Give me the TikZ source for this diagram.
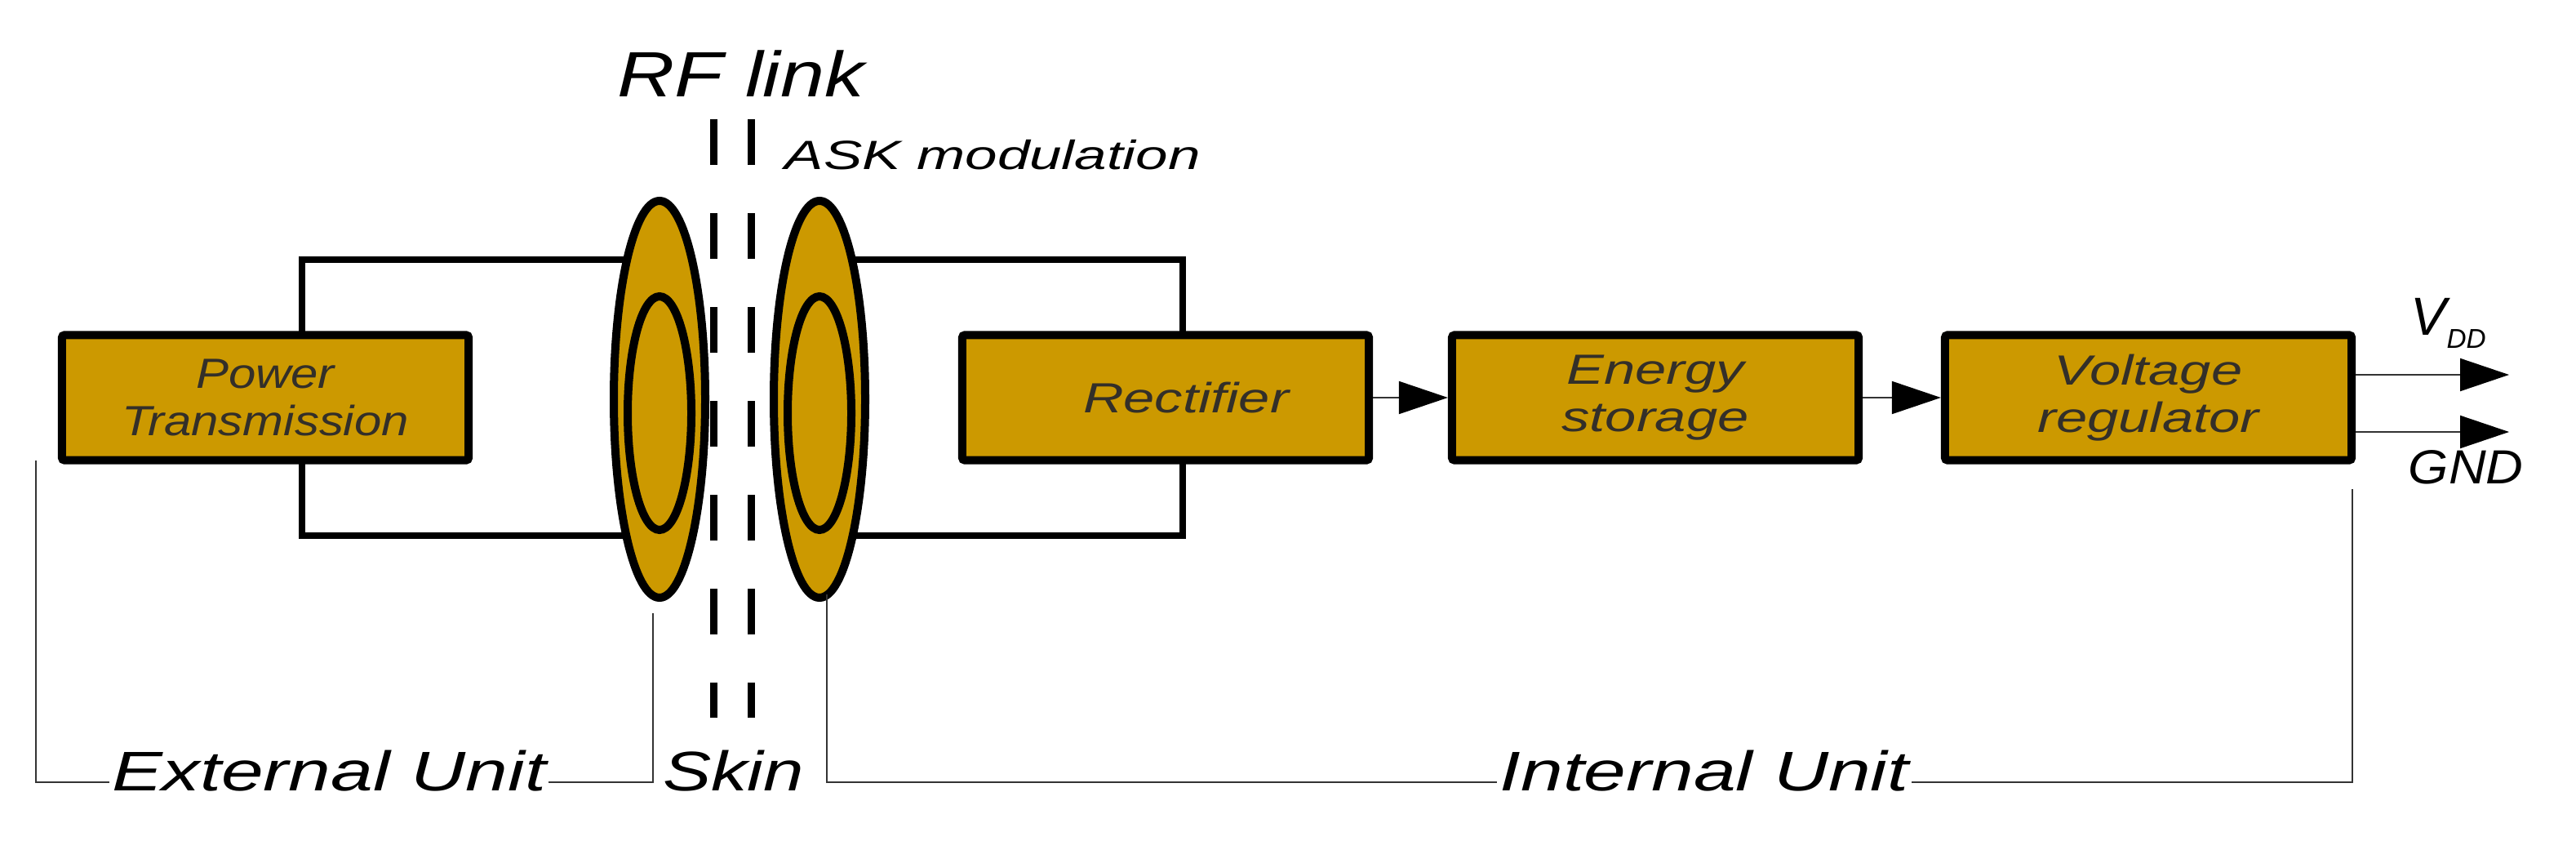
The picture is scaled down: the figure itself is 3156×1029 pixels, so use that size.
\documentclass[tikz,border=0pt]{standalone}
\usepackage{fontspec}
\setmainfont{Liberation Sans}
\usetikzlibrary{arrows.meta}
\definecolor{gold}{HTML}{CC9900}
\newcommand\widetxt[2][1.33]{\scalebox{#1}[1]{#2}}
\begin{document}
\begin{tikzpicture}[x=0.3pt,y=-0.3pt,
 blk/.style={draw=black,line width=3pt,fill=gold,rounded corners=1pt,minimum width=149.5pt,minimum height=46pt,inner sep=0pt,align=center,font=\itshape\fontsize{15.5}{17.5}\selectfont,text=black!85!olive},
 loop/.style={line width=2.4pt},
 coil/.style={draw=black,line width=3pt,fill=gold},
 thin/.style={line width=0.6pt,black!80},
 lbl/.style={font=\itshape\fontsize{20.5}{22}\selectfont,inner sep=1pt},
 arr/.style={-{Triangle[length=18pt,width=12pt,color=black]}},
 skindash/.style={line width=2.7pt,dash pattern=on 16.8pt off 17.7pt}]
\useasboundingbox (0,0) rectangle (3156,1029);
% loops
\draw[loop] (576,318) -- (370,318) -- (370,656) -- (800,656);
\draw[loop] (576,318) -- (800,318);
\draw[loop] (1000,318) -- (1449,318) -- (1449,656) -- (1000,656);
\node[blk] (pt) at (325,487) {\widetxt[1.16]{Power}\\\widetxt[1.16]{Transmission}};
\node[blk] (rect) at (1428,487) {\hspace*{15pt}\widetxt{Rectifier}};
\node[blk] (es) at (2028,487) {\widetxt{Energy}\\\widetxt{storage}};
\node[blk] (vr) at (2632,487) {\widetxt{Voltage}\\\widetxt{regulator}};
% coils
\draw[coil] (808,489) ellipse [x radius=56, y radius=243];
\draw[coil] (808,506) ellipse [x radius=39, y radius=143];
\draw[coil] (1004,489) ellipse [x radius=56, y radius=243];
\draw[coil] (1004,506) ellipse [x radius=39, y radius=143];
% dashed skin
\coordinate (d1t) at (874,146); \coordinate (d1b) at (874,879);
\coordinate (d2t) at (920,146); \coordinate (d2b) at (920,879);
\draw[skindash] (d1t) -- (d1b);
\draw[skindash] (d2t) -- (d2b);
% arrows
\draw[thin,arr] (rect.east) -- (es.west);
\draw[thin,arr] (es.east) -- (vr.west);
\coordinate (vdd) at (3074,459); \coordinate (gnd) at (3074,529);
\draw[thin,arr] (vr.east |- vdd) -- (vdd);
\draw[thin,arr] (vr.east |- gnd) -- (gnd);
% bracket lines
\draw[thin] (44,564) -- (44,958) -- (800,958) -- (800,751);
\draw[thin] (1013,728) -- (1013,958) -- (2882,958) -- (2882,599);
% labels
\node[lbl,fill=white,anchor=base] (ext) at (403,968) {\widetxt[1.36]{External Unit}};
\node[lbl,fill=white,anchor=base west] (skin) at (808,968) {\widetxt[1.3]{Skin}};
\node[lbl,fill=white,anchor=base] (int) at (2088,968) {\widetxt[1.36]{Internal Unit}};
\node[font=\itshape\fontsize{23.5}{25}\selectfont,anchor=base west,inner sep=0pt] (rf) at (756,118) {\widetxt[1.24]{RF link}};
\node[font=\itshape\fontsize{15}{17}\selectfont,anchor=base west,inner sep=0pt] (ask) at (961,207) {\widetxt[1.42]{ASK modulation}};
\node[font=\itshape\fontsize{19.7}{21}\selectfont,anchor=base west,inner sep=0pt] (v) at (2953,410) {V\raisebox{-5pt}{\fontsize{10}{11}\selectfont DD}};
\node[font=\itshape\fontsize{17.6}{19}\selectfont,anchor=base west,inner sep=0pt] (g) at (2950,592) {\widetxt[1.08]{GND}};
\end{tikzpicture}
\end{document}
